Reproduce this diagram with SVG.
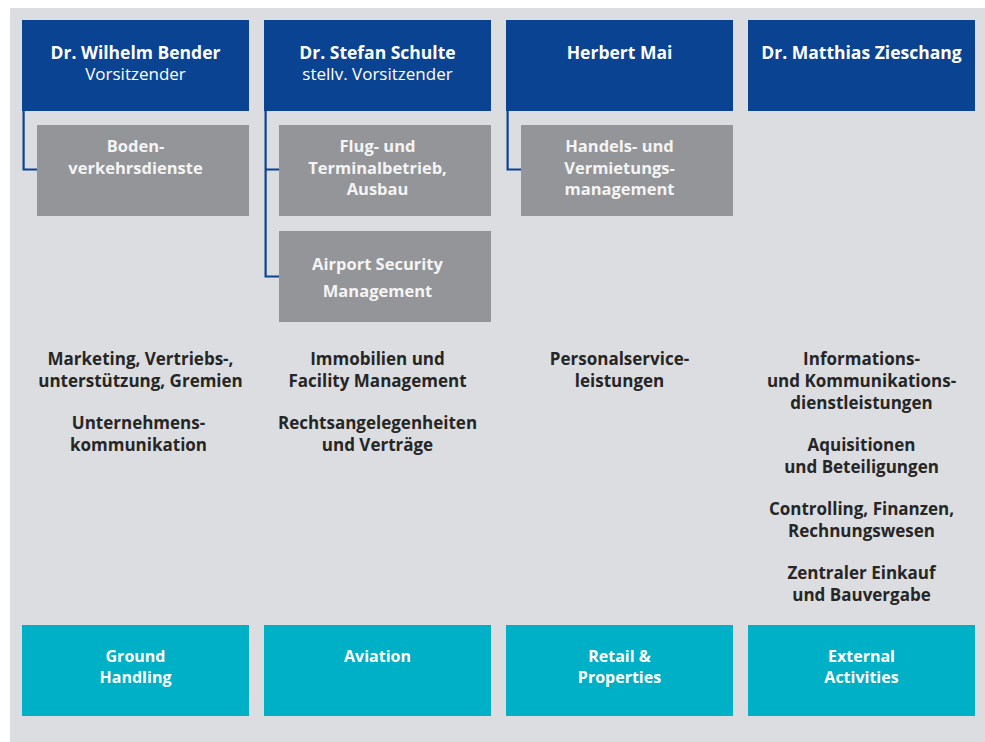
<svg xmlns="http://www.w3.org/2000/svg" width="985" height="742" viewBox="0 0 985 742">
<style>
  .bg { fill: #dcdde0; }
  .head { fill: #0b4393; }
  .sub { fill: #939598; }
  .seg { fill: #00b0c6; }
  text { font-family: "Open Sans", "Liberation Sans", Arial, sans-serif; text-anchor: middle; }
  .hn { font-size: 17.5px; font-weight: 700; fill: #ffffff; }
  .hr { font-size: 17px; font-weight: 400; fill: #ffffff; }
  .st { font-size: 16.5px; font-weight: 700; fill: #f4f4f4; }
  .mt { font-size: 17px; font-weight: 700; fill: #262626; }
  .tt { font-size: 16px; font-weight: 700; fill: #ffffff; }
  .conn { fill: none; stroke: #0b4393; stroke-width: 2.2; }
</style>
<rect class="bg" x="10" y="8" width="975" height="734"/>

<g id="connectors">
  <path class="conn" d="M23.6 111 V169.5 H37"/>
  <path class="conn" d="M265.6 111 V276.5 H279 M265.6 169.5 H279"/>
  <path class="conn" d="M507.6 111 V169.5 H521"/>
</g>

<g id="head-bender">
  <rect class="head" x="22" y="20" width="227" height="91"/>
  <text class="hn" x="135.5" y="59">Dr. Wilhelm Bender</text>
  <text class="hr" x="135.5" y="80">Vorsitzender</text>
</g>
<g id="head-schulte">
  <rect class="head" x="264" y="20" width="227" height="91"/>
  <text class="hn" x="377.5" y="59">Dr. Stefan Schulte</text>
  <text class="hr" x="377.5" y="80">stellv. Vorsitzender</text>
</g>
<g id="head-mai">
  <rect class="head" x="506" y="20" width="227" height="91"/>
  <text class="hn" x="619.5" y="59">Herbert Mai</text>
</g>
<g id="head-zieschang">
  <rect class="head" x="748" y="20" width="227" height="91"/>
  <text class="hn" x="861.5" y="59">Dr. Matthias Zieschang</text>
</g>

<g id="sub-boden">
  <rect class="sub" x="37" y="125" width="212" height="91"/>
  <text class="st" x="135.5" y="152">Boden-</text>
  <text class="st" x="135.5" y="174">verkehrsdienste</text>
</g>
<g id="sub-flug">
  <rect class="sub" x="279" y="125" width="212" height="91"/>
  <text class="st" x="377.5" y="152">Flug- und</text>
  <text class="st" x="377.5" y="174">Terminalbetrieb,</text>
  <text class="st" x="377.5" y="195">Ausbau</text>
</g>
<g id="sub-security">
  <rect class="sub" x="279" y="231" width="212" height="91"/>
  <text class="st" x="377.5" y="270">Airport Security</text>
  <text class="st" x="377.5" y="297">Management</text>
</g>
<g id="sub-handel">
  <rect class="sub" x="521" y="125" width="212" height="91"/>
  <text class="st" x="619.5" y="152">Handels- und</text>
  <text class="st" x="619.5" y="174">Vermietungs-</text>
  <text class="st" x="619.5" y="195">management</text>
</g>

<g id="mid-col1">
  <text class="mt" x="140.5" y="365">Marketing, Vertriebs-,</text>
  <text class="mt" x="140.5" y="387">unterstützung, Gremien</text>
  <text class="mt" x="138.5" y="429">Unternehmens-</text>
  <text class="mt" x="138.5" y="451">kommunikation</text>
</g>
<g id="mid-col2">
  <text class="mt" x="377.5" y="365">Immobilien und</text>
  <text class="mt" x="377.5" y="387">Facility Management</text>
  <text class="mt" x="377.5" y="429">Rechtsangelegenheiten</text>
  <text class="mt" x="377.5" y="451">und Verträge</text>
</g>
<g id="mid-col3">
  <text class="mt" x="619.5" y="365">Personalservice-</text>
  <text class="mt" x="619.5" y="387">leistungen</text>
</g>
<g id="mid-col4">
  <text class="mt" x="861.5" y="365">Informations-</text>
  <text class="mt" x="861.5" y="387">und Kommunikations-</text>
  <text class="mt" x="861.5" y="409">dienstleistungen</text>
  <text class="mt" x="861.5" y="451">Aquisitionen</text>
  <text class="mt" x="861.5" y="473">und Beteiligungen</text>
  <text class="mt" x="861.5" y="515">Controlling, Finanzen,</text>
  <text class="mt" x="861.5" y="537">Rechnungswesen</text>
  <text class="mt" x="861.5" y="579">Zentraler Einkauf</text>
  <text class="mt" x="861.5" y="601">und Bauvergabe</text>
</g>

<g id="seg-ground">
  <rect class="seg" x="22" y="625" width="227" height="91"/>
  <text class="tt" x="135.5" y="662">Ground</text>
  <text class="tt" x="135.5" y="683">Handling</text>
</g>
<g id="seg-aviation">
  <rect class="seg" x="264" y="625" width="227" height="91"/>
  <text class="tt" x="377.5" y="662">Aviation</text>
</g>
<g id="seg-retail">
  <rect class="seg" x="506" y="625" width="227" height="91"/>
  <text class="tt" x="619.5" y="662">Retail &amp;</text>
  <text class="tt" x="619.5" y="683">Properties</text>
</g>
<g id="seg-external">
  <rect class="seg" x="748" y="625" width="227" height="91"/>
  <text class="tt" x="861.5" y="662">External</text>
  <text class="tt" x="861.5" y="683">Activities</text>
</g>
</svg>
